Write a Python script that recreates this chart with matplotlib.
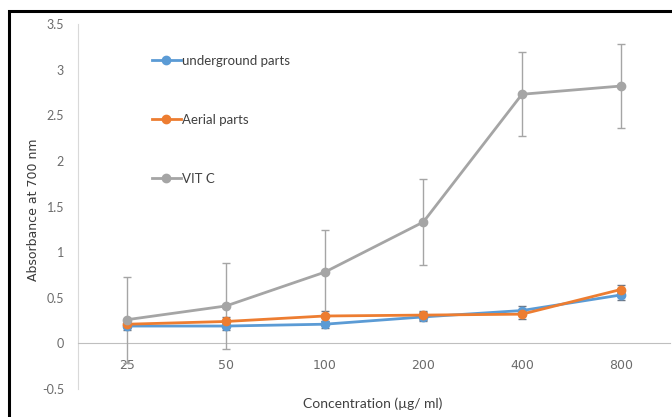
import matplotlib

matplotlib.use("Agg")
import matplotlib.pyplot as plt
from matplotlib.lines import Line2D
from matplotlib.patches import Rectangle

concentrations = ["25", "50", "100", "200", "400", "800"]
underground = [0.19, 0.19, 0.21, 0.29, 0.36, 0.53]
underground_err = [0.04, 0.04, 0.04, 0.05, 0.05, 0.05]
aerial = [0.21, 0.24, 0.30, 0.31, 0.32, 0.59]
aerial_err = [0.04, 0.05, 0.05, 0.05, 0.05, 0.05]
vitc = [0.26, 0.41, 0.78, 1.33, 2.73, 2.82]
vitc_err = [0.47, 0.47, 0.46, 0.47, 0.46, 0.465]
y_ticks = [-0.5, 0, 0.5, 1, 1.5, 2, 2.5, 3, 3.5]

NARROW = ["Lato", "DejaVu Sans"]

fig = plt.figure(figsize=(6.72, 4.17), dpi=100)
ax = fig.add_axes([78 / 672, 1 - 389 / 417, (670 - 78) / 672, (389 - 24) / 417])

x = list(range(len(concentrations)))
series = [
    ("underground parts", underground, underground_err, "#5B9BD5"),
    ("Aerial parts", aerial, aerial_err, "#ED7D31"),
    ("VIT C", vitc, vitc_err, "#A5A5A5"),
]
handles = []
for label, vals, err, color in series:
    ecol = "#A5A5A5" if label == "VIT C" else "#6d7785"
    ax.errorbar(x, vals, yerr=err, color=color, lw=2.0, marker="o", ms=6,
                ecolor=ecol, elinewidth=1.0, capsize=3, capthick=1.0, zorder=3)
    handles.append(Line2D([], [], color=color, lw=2.0, marker="o", ms=6, label=label))

ax.set_xlim(-0.5, 5.5)
ax.set_ylim(-0.5, 3.5)
ax.set_yticks(y_ticks)
ax.set_yticklabels([f"{t:g}" for t in y_ticks], family=NARROW)
ax.set_xticks(x)
ax.set_xticklabels(concentrations, family=NARROW)
ax.tick_params(axis="both", length=0, labelsize=9, colors="#6b6b6b")
ax.tick_params(axis="x", pad=11)
ax.tick_params(axis="y", pad=10)

for s in ["top", "right"]:
    ax.spines[s].set_visible(False)
ax.spines["bottom"].set_position(("data", 0))
ax.spines["bottom"].set_color("#BFBFBF")
ax.spines["left"].set_color("#D9D9D9")

ax.set_ylabel("Absorbance at 700 nm", fontsize=9, color="#3a3a3a")
ax.yaxis.set_label_coords(-0.064, 0.49)
ax.set_xlabel("Concentration (µg/ ml)", fontsize=10, color="#404040", family=NARROW)
ax.xaxis.set_label_coords(0.497, -0.041)
ax.xaxis.label.set_va("center")

leg = ax.legend(handles=handles, loc="upper left", bbox_to_anchor=(140 / 672, 1 - 43 / 417),
                bbox_transform=fig.transFigure, frameon=False, prop={"family": NARROW, "size": 9.5},
                labelspacing=3.55, handlelength=2.2, handletextpad=0.1)
for t in leg.get_texts():
    t.set_color("#404040")

fig.patches.append(Rectangle((9 / 672, -0.1), 1.2, 1 - 11 / 417 + 0.1, transform=fig.transFigure,
                             fill=False, lw=2.2, edgecolor="black"))

fig.savefig("out.png", dpi=100)
